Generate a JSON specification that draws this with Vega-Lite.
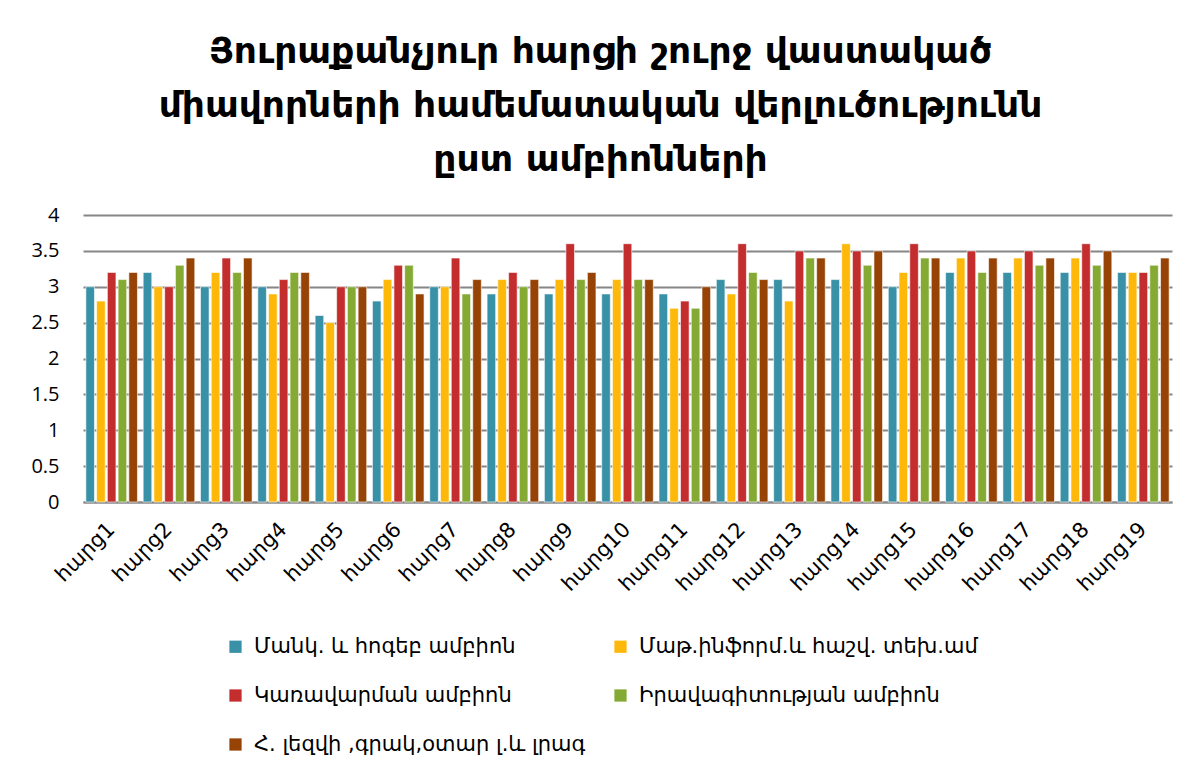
{
  "$schema": "https://vega.github.io/schema/vega-lite/v6.json",
  "width": 1089,
  "height": 287,
  "autosize": {"type": "none"},
  "padding": {"left": 83, "top": 215, "right": 28, "bottom": 274},
  "background": "white",
  "title": {
    "text": ["Յուրաքանչյուր հարցի  շուրջ վաստակած", "միավորների  համեմատական վերլուծությունն", "ըստ ամբիոնների"],
    "font": "DejaVu Sans",
    "fontWeight": "bold",
    "fontSize": 36,
    "lineHeight": 54,
    "color": "black",
    "anchor": "middle",
    "dx": -27,
    "offset": 26
  },
  "datasets": {
    "d": [
      {"q": "հարց1", "s": "Մանկ. և հոգեբ ամբիոն", "v": 3.0},
      {"q": "հարց1", "s": "Մաթ.ինֆորմ.և հաշվ. տեխ.ամ", "v": 2.8},
      {"q": "հարց1", "s": "Կառավարման ամբիոն", "v": 3.2},
      {"q": "հարց1", "s": "Իրավագիտության ամբիոն", "v": 3.1},
      {"q": "հարց1", "s": "Հ. լեզվի ,գրակ,օտար լ.և լրագ", "v": 3.2},
      {"q": "հարց2", "s": "Մանկ. և հոգեբ ամբիոն", "v": 3.2},
      {"q": "հարց2", "s": "Մաթ.ինֆորմ.և հաշվ. տեխ.ամ", "v": 3.0},
      {"q": "հարց2", "s": "Կառավարման ամբիոն", "v": 3.0},
      {"q": "հարց2", "s": "Իրավագիտության ամբիոն", "v": 3.3},
      {"q": "հարց2", "s": "Հ. լեզվի ,գրակ,օտար լ.և լրագ", "v": 3.4},
      {"q": "հարց3", "s": "Մանկ. և հոգեբ ամբիոն", "v": 3.0},
      {"q": "հարց3", "s": "Մաթ.ինֆորմ.և հաշվ. տեխ.ամ", "v": 3.2},
      {"q": "հարց3", "s": "Կառավարման ամբիոն", "v": 3.4},
      {"q": "հարց3", "s": "Իրավագիտության ամբիոն", "v": 3.2},
      {"q": "հարց3", "s": "Հ. լեզվի ,գրակ,օտար լ.և լրագ", "v": 3.4},
      {"q": "հարց4", "s": "Մանկ. և հոգեբ ամբիոն", "v": 3.0},
      {"q": "հարց4", "s": "Մաթ.ինֆորմ.և հաշվ. տեխ.ամ", "v": 2.9},
      {"q": "հարց4", "s": "Կառավարման ամբիոն", "v": 3.1},
      {"q": "հարց4", "s": "Իրավագիտության ամբիոն", "v": 3.2},
      {"q": "հարց4", "s": "Հ. լեզվի ,գրակ,օտար լ.և լրագ", "v": 3.2},
      {"q": "հարց5", "s": "Մանկ. և հոգեբ ամբիոն", "v": 2.6},
      {"q": "հարց5", "s": "Մաթ.ինֆորմ.և հաշվ. տեխ.ամ", "v": 2.5},
      {"q": "հարց5", "s": "Կառավարման ամբիոն", "v": 3.0},
      {"q": "հարց5", "s": "Իրավագիտության ամբիոն", "v": 3.0},
      {"q": "հարց5", "s": "Հ. լեզվի ,գրակ,օտար լ.և լրագ", "v": 3.0},
      {"q": "հարց6", "s": "Մանկ. և հոգեբ ամբիոն", "v": 2.8},
      {"q": "հարց6", "s": "Մաթ.ինֆորմ.և հաշվ. տեխ.ամ", "v": 3.1},
      {"q": "հարց6", "s": "Կառավարման ամբիոն", "v": 3.3},
      {"q": "հարց6", "s": "Իրավագիտության ամբիոն", "v": 3.3},
      {"q": "հարց6", "s": "Հ. լեզվի ,գրակ,օտար լ.և լրագ", "v": 2.9},
      {"q": "հարց7", "s": "Մանկ. և հոգեբ ամբիոն", "v": 3.0},
      {"q": "հարց7", "s": "Մաթ.ինֆորմ.և հաշվ. տեխ.ամ", "v": 3.0},
      {"q": "հարց7", "s": "Կառավարման ամբիոն", "v": 3.4},
      {"q": "հարց7", "s": "Իրավագիտության ամբիոն", "v": 2.9},
      {"q": "հարց7", "s": "Հ. լեզվի ,գրակ,օտար լ.և լրագ", "v": 3.1},
      {"q": "հարց8", "s": "Մանկ. և հոգեբ ամբիոն", "v": 2.9},
      {"q": "հարց8", "s": "Մաթ.ինֆորմ.և հաշվ. տեխ.ամ", "v": 3.1},
      {"q": "հարց8", "s": "Կառավարման ամբիոն", "v": 3.2},
      {"q": "հարց8", "s": "Իրավագիտության ամբիոն", "v": 3.0},
      {"q": "հարց8", "s": "Հ. լեզվի ,գրակ,օտար լ.և լրագ", "v": 3.1},
      {"q": "հարց9", "s": "Մանկ. և հոգեբ ամբիոն", "v": 2.9},
      {"q": "հարց9", "s": "Մաթ.ինֆորմ.և հաշվ. տեխ.ամ", "v": 3.1},
      {"q": "հարց9", "s": "Կառավարման ամբիոն", "v": 3.6},
      {"q": "հարց9", "s": "Իրավագիտության ամբիոն", "v": 3.1},
      {"q": "հարց9", "s": "Հ. լեզվի ,գրակ,օտար լ.և լրագ", "v": 3.2},
      {"q": "հարց10", "s": "Մանկ. և հոգեբ ամբիոն", "v": 2.9},
      {"q": "հարց10", "s": "Մաթ.ինֆորմ.և հաշվ. տեխ.ամ", "v": 3.1},
      {"q": "հարց10", "s": "Կառավարման ամբիոն", "v": 3.6},
      {"q": "հարց10", "s": "Իրավագիտության ամբիոն", "v": 3.1},
      {"q": "հարց10", "s": "Հ. լեզվի ,գրակ,օտար լ.և լրագ", "v": 3.1},
      {"q": "հարց11", "s": "Մանկ. և հոգեբ ամբիոն", "v": 2.9},
      {"q": "հարց11", "s": "Մաթ.ինֆորմ.և հաշվ. տեխ.ամ", "v": 2.7},
      {"q": "հարց11", "s": "Կառավարման ամբիոն", "v": 2.8},
      {"q": "հարց11", "s": "Իրավագիտության ամբիոն", "v": 2.7},
      {"q": "հարց11", "s": "Հ. լեզվի ,գրակ,օտար լ.և լրագ", "v": 3.0},
      {"q": "հարց12", "s": "Մանկ. և հոգեբ ամբիոն", "v": 3.1},
      {"q": "հարց12", "s": "Մաթ.ինֆորմ.և հաշվ. տեխ.ամ", "v": 2.9},
      {"q": "հարց12", "s": "Կառավարման ամբիոն", "v": 3.6},
      {"q": "հարց12", "s": "Իրավագիտության ամբիոն", "v": 3.2},
      {"q": "հարց12", "s": "Հ. լեզվի ,գրակ,օտար լ.և լրագ", "v": 3.1},
      {"q": "հարց13", "s": "Մանկ. և հոգեբ ամբիոն", "v": 3.1},
      {"q": "հարց13", "s": "Մաթ.ինֆորմ.և հաշվ. տեխ.ամ", "v": 2.8},
      {"q": "հարց13", "s": "Կառավարման ամբիոն", "v": 3.5},
      {"q": "հարց13", "s": "Իրավագիտության ամբիոն", "v": 3.4},
      {"q": "հարց13", "s": "Հ. լեզվի ,գրակ,օտար լ.և լրագ", "v": 3.4},
      {"q": "հարց14", "s": "Մանկ. և հոգեբ ամբիոն", "v": 3.1},
      {"q": "հարց14", "s": "Մաթ.ինֆորմ.և հաշվ. տեխ.ամ", "v": 3.6},
      {"q": "հարց14", "s": "Կառավարման ամբիոն", "v": 3.5},
      {"q": "հարց14", "s": "Իրավագիտության ամբիոն", "v": 3.3},
      {"q": "հարց14", "s": "Հ. լեզվի ,գրակ,օտար լ.և լրագ", "v": 3.5},
      {"q": "հարց15", "s": "Մանկ. և հոգեբ ամբիոն", "v": 3.0},
      {"q": "հարց15", "s": "Մաթ.ինֆորմ.և հաշվ. տեխ.ամ", "v": 3.2},
      {"q": "հարց15", "s": "Կառավարման ամբիոն", "v": 3.6},
      {"q": "հարց15", "s": "Իրավագիտության ամբիոն", "v": 3.4},
      {"q": "հարց15", "s": "Հ. լեզվի ,գրակ,օտար լ.և լրագ", "v": 3.4},
      {"q": "հարց16", "s": "Մանկ. և հոգեբ ամբիոն", "v": 3.2},
      {"q": "հարց16", "s": "Մաթ.ինֆորմ.և հաշվ. տեխ.ամ", "v": 3.4},
      {"q": "հարց16", "s": "Կառավարման ամբիոն", "v": 3.5},
      {"q": "հարց16", "s": "Իրավագիտության ամբիոն", "v": 3.2},
      {"q": "հարց16", "s": "Հ. լեզվի ,գրակ,օտար լ.և լրագ", "v": 3.4},
      {"q": "հարց17", "s": "Մանկ. և հոգեբ ամբիոն", "v": 3.2},
      {"q": "հարց17", "s": "Մաթ.ինֆորմ.և հաշվ. տեխ.ամ", "v": 3.4},
      {"q": "հարց17", "s": "Կառավարման ամբիոն", "v": 3.5},
      {"q": "հարց17", "s": "Իրավագիտության ամբիոն", "v": 3.3},
      {"q": "հարց17", "s": "Հ. լեզվի ,գրակ,օտար լ.և լրագ", "v": 3.4},
      {"q": "հարց18", "s": "Մանկ. և հոգեբ ամբիոն", "v": 3.2},
      {"q": "հարց18", "s": "Մաթ.ինֆորմ.և հաշվ. տեխ.ամ", "v": 3.4},
      {"q": "հարց18", "s": "Կառավարման ամբիոն", "v": 3.6},
      {"q": "հարց18", "s": "Իրավագիտության ամբիոն", "v": 3.3},
      {"q": "հարց18", "s": "Հ. լեզվի ,գրակ,օտար լ.և լրագ", "v": 3.5},
      {"q": "հարց19", "s": "Մանկ. և հոգեբ ամբիոն", "v": 3.2},
      {"q": "հարց19", "s": "Մաթ.ինֆորմ.և հաշվ. տեխ.ամ", "v": 3.2},
      {"q": "հարց19", "s": "Կառավարման ամբիոն", "v": 3.2},
      {"q": "հարց19", "s": "Իրավագիտության ամբիոն", "v": 3.3},
      {"q": "հարց19", "s": "Հ. լեզվի ,գրակ,օտար լ.և լրագ", "v": 3.4}
    ]
  },
  "data": {"name": "d"},
  "mark": {"type": "bar", "stroke": "white", "strokeWidth": 0.6},
  "encoding": {
    "x": {
      "field": "q",
      "type": "nominal",
      "sort": null,
      "scale": {"paddingInner": 0.1, "paddingOuter": 0.05},
      "axis": {
        "title": null,
        "labelAngle": -45,
        "labelAlign": "right",
        "labelBaseline": "middle",
        "labelFont": "DejaVu Sans",
        "labelFontSize": 21,
        "labelColor": "black",
        "labelPadding": 24,
        "labelOverlap": false,
        "ticks": false,
        "grid": false,
        "domainColor": "#8c8c8c",
        "domainWidth": 2
      }
    },
    "xOffset": {
      "field": "s",
      "type": "nominal",
      "sort": ["Մանկ. և հոգեբ ամբիոն", "Մաթ.ինֆորմ.և հաշվ. տեխ.ամ", "Կառավարման ամբիոն", "Իրավագիտության ամբիոն", "Հ. լեզվի ,գրակ,օտար լ.և լրագ"],
      "scale": {"paddingInner": 0.2}
    },
    "y": {
      "field": "v",
      "type": "quantitative",
      "scale": {"domain": [0, 4]},
      "axis": {
        "title": null,
        "values": [0, 0.5, 1, 1.5, 2, 2.5, 3, 3.5, 4],
        "labelExpr": "toString(datum.value)",
        "labelOverlap": false,
        "labelFont": "Open Sans",
        "labelFontSize": 20,
        "labelColor": "black",
        "labelPadding": 24,
        "ticks": false,
        "domain": false,
        "grid": true,
        "gridColor": "#868686",
        "gridWidth": 2,
        "gridOpacity": 1
      }
    },
    "color": {
      "field": "s",
      "type": "nominal",
      "scale": {
        "domain": ["Մանկ. և հոգեբ ամբիոն", "Կառավարման ամբիոն", "Հ. լեզվի ,գրակ,օտար լ.և լրագ", "Մաթ.ինֆորմ.և հաշվ. տեխ.ամ", "Իրավագիտության ամբիոն"],
        "range": ["#3891A7", "#C32D2E", "#964305", "#FEB80A", "#84AA33"]
      },
      "legend": {
        "title": null,
        "orient": "none",
        "legendX": 142,
        "legendY": 421,
        "columns": 2,
        "columnPadding": 24,
        "rowPadding": 27,
        "symbolType": "square",
        "symbolSize": 150,
        "symbolStrokeWidth": 0,
        "labelFont": "DejaVu Sans",
        "labelFontSize": 21,
        "labelColor": "black",
        "labelLimit": 400,
        "labelOffset": 8
      }
    }
  },
  "config": {
    "view": {"stroke": null}
  }
}
